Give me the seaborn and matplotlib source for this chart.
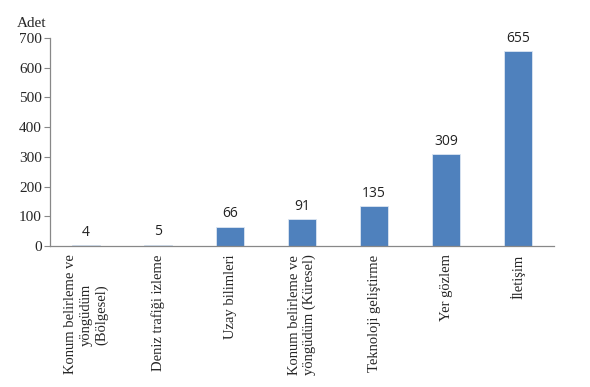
import matplotlib
matplotlib.use("Agg")
import matplotlib.pyplot as plt
import seaborn as sns
import pandas as pd

categories = ["Konum belirleme ve\nyöngüdüm\n(Bölgesel)", "Deniz trafiği izleme", "Uzay bilimleri",
              "Konum belirleme ve\nyöngüdüm (Küresel)", "Teknoloji geliştirme", "Yer gözlem", "İletişim"]
values = [4, 5, 66, 91, 135, 309, 655]
yticks = [0, 100, 200, 300, 400, 500, 600, 700]

sns.set_style("white")
df = pd.DataFrame({"cat": categories, "val": values})

fig = plt.figure(figsize=(5.9, 3.87), dpi=100)
ax = fig.add_axes([0.085, 0.364, 0.854, 0.538])
sns.barplot(data=df, x="cat", y="val", color="#4F81BD", saturation=1, width=0.39,
            edgecolor="#DCE6F2", linewidth=0.6, ax=ax)

ax.set_ylim(0, 700)
ax.set_xlim(-0.5, len(categories) - 0.5)
ax.set_yticks(yticks)
ax.set_yticklabels([str(v) for v in yticks], fontsize=11, family="Liberation Serif")
ax.set_xticks(range(len(categories)))
ax.set_xticklabels(categories, rotation=90, fontsize=10.5, family="Liberation Serif",
                   ha="center", va="top", multialignment="center")
ax.tick_params(axis="x", which="major", length=0, pad=6)
ax.set_xticks([i + 0.5 for i in range(len(categories))], minor=True)
ax.tick_params(axis="x", which="minor", length=4, color="#888888", direction="out")
ax.tick_params(axis="y", length=4, color="#888888", direction="out", left=True, pad=2)
ax.set_xlabel("")
ax.set_ylabel("")
for s in ["top", "right"]:
    ax.spines[s].set_visible(False)
for s in ["left", "bottom"]:
    ax.spines[s].set_color("#888888")
    ax.spines[s].set_linewidth(0.9)

for i, v in enumerate(values):
    ax.text(i, v + 18, str(v), ha="center", va="bottom", fontsize=10, family="Open Sans", color="#222222")

fig.text(0.029, 0.938, "Adet", fontsize=11, family="Liberation Serif", ha="left", va="center")

fig.savefig("out.png", dpi=100)
